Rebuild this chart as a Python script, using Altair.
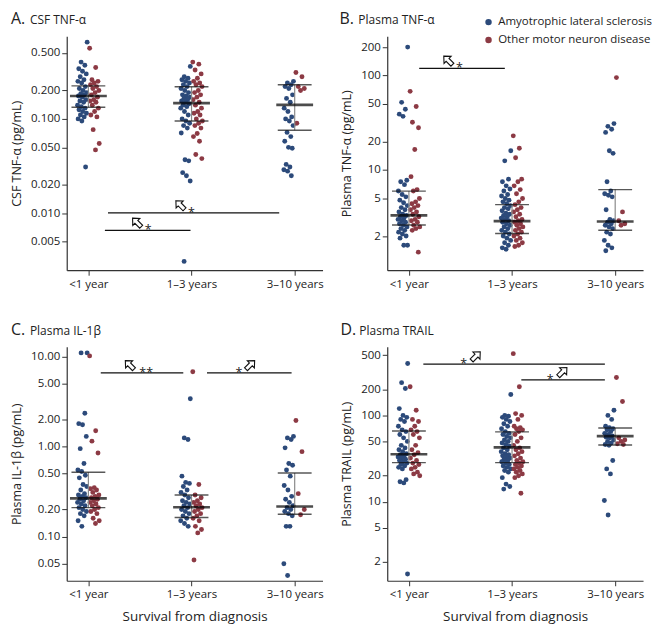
import altair as alt
import pandas as pd

FONT = "Open Sans"
GROUPS = ["Amyotrophic lateral sclerosis", "Other motor neuron disease"]
CATS = ["<1 year", "1–3 years", "3–10 years"]
BLUE = "#2c4a7a"
RED = "#8c3a44"

# ---------------- Panel A: CSF TNF-alpha ----------------
a_als = [
    [0.65, 0.40, 0.37, 0.34, 0.32, 0.30, 0.28, 0.26, 0.25, 0.24, 0.22, 0.21, 0.20, 0.19, 0.185, 0.18,
     0.175, 0.17, 0.16, 0.155, 0.15, 0.14, 0.135, 0.13, 0.125, 0.12, 0.115, 0.11, 0.105, 0.10, 0.095, 0.031],
    [0.36, 0.28, 0.27, 0.26, 0.25, 0.24, 0.23, 0.22, 0.21, 0.20, 0.19, 0.18, 0.175, 0.17, 0.165, 0.16,
     0.155, 0.15, 0.145, 0.14, 0.135, 0.13, 0.12, 0.11, 0.10, 0.095, 0.09, 0.085, 0.08, 0.071, 0.037,
     0.036, 0.027, 0.025, 0.022, 0.0031],
    [0.25, 0.24, 0.23, 0.22, 0.21, 0.18, 0.165, 0.15, 0.13, 0.12, 0.105, 0.10, 0.095, 0.085, 0.072,
     0.065, 0.058, 0.050, 0.049, 0.033, 0.031, 0.029, 0.028, 0.025],
]
a_oth = [
    [0.56, 0.35, 0.26, 0.25, 0.24, 0.23, 0.22, 0.21, 0.20, 0.19, 0.18, 0.17, 0.16, 0.155, 0.15, 0.14,
     0.13, 0.12, 0.11, 0.105, 0.077, 0.055, 0.047],
    [0.40, 0.38, 0.33, 0.30, 0.27, 0.25, 0.24, 0.23, 0.22, 0.20, 0.19, 0.18, 0.17, 0.16, 0.15, 0.14,
     0.13, 0.12, 0.115, 0.11, 0.10, 0.095, 0.09, 0.085, 0.08, 0.07, 0.065, 0.058, 0.042, 0.038],
    [0.31, 0.28, 0.22, 0.21, 0.20, 0.09],
]
a_med = [0.175, 0.147, 0.141]
a_q1 = [0.133, 0.095, 0.076]
a_q3 = [0.224, 0.219, 0.23]
a_ticks = [0.005, 0.01, 0.02, 0.05, 0.1, 0.2, 0.5]
# significance bars: from, to, level, arrow pos, star pos, star text, arrow direction
a_sig = [
    dict(x1=0.19, x2=1.85, y=0.0101, ax=0.89, sx=1.0, star="*", d="left"),
    dict(x1=0.16, x2=0.99, y=0.0066, ax=0.47, sx=0.58, star="*", d="left"),
]

# ---------------- Panel B: Plasma TNF-alpha ----------------
b_als = [
    [200, 52, 44, 39, 37, 7.8, 7.5, 7.0, 6.0, 5.5, 5.2, 4.8, 4.5, 4.2, 4.0, 3.8, 3.6, 3.4, 3.3, 3.2,
     3.1, 3.0, 2.9, 2.8, 2.7, 2.6, 2.5, 2.4, 2.3, 2.2, 2.1, 2.0, 1.9, 1.6, 1.6],
    [16, 12.5, 8.0, 7.5, 6.8, 6.3, 6.0, 5.5, 5.3, 5.0, 4.8, 4.6, 4.4, 4.2, 4.0, 3.9, 3.7, 3.5, 3.4,
     3.3, 3.2, 3.1, 3.0, 2.9, 2.8, 2.7, 2.6, 2.5, 2.4, 2.3, 2.2, 2.1, 2.0, 1.9, 1.8, 1.7, 1.6, 1.5, 1.45],
    [31, 29, 27, 25, 16, 15, 7.5, 6.0, 5.6, 5.4, 5.2, 3.8, 3.0, 2.9, 2.8, 2.7, 2.6, 2.5, 2.4, 2.2,
     2.1, 1.8, 1.6, 1.5, 1.4],
]
b_oth = [
    [68, 47, 32, 28, 16.5, 8.5, 6.2, 6.0, 5.0, 4.6, 4.4, 4.2, 4.0, 3.8, 3.6, 3.4, 3.2, 3.0, 2.9, 2.8,
     2.6, 2.5, 2.4, 2.3, 1.35],
    [23, 17, 13.5, 8.0, 7.5, 6.8, 6.2, 5.6, 5.0, 4.6, 4.3, 4.0, 3.8, 3.6, 3.4, 3.2, 3.0, 2.9, 2.8,
     2.7, 2.6, 2.5, 2.4, 2.3, 2.2, 2.1, 2.0, 1.9, 1.8, 1.7, 1.6, 1.55],
    [95, 3.6, 2.9, 2.7, 2.6],
]
b_med = [3.31, 2.88, 2.85]
b_q1 = [2.62, 2.13, 2.3]
b_q3 = [5.97, 4.3, 6.2]
b_ticks = [2, 5, 10, 20, 50, 100, 200]
b_sig = [
    dict(x1=0.10, x2=0.93, y=119, ax=0.38, sx=0.49, star="*", d="left"),
]

# ---------------- Panel C: Plasma IL-1beta ----------------
c_als = [
    [11, 11, 2.35, 1.8, 1.75, 1.3, 0.95, 0.65, 0.55, 0.53, 0.48, 0.45, 0.38, 0.36, 0.33, 0.30, 0.29,
     0.28, 0.27, 0.26, 0.25, 0.24, 0.23, 0.22, 0.21, 0.20, 0.19, 0.18, 0.17, 0.15, 0.13],
    [3.4, 1.25, 1.2, 0.47, 0.40, 0.39, 0.36, 0.33, 0.31, 0.29, 0.27, 0.25, 0.24, 0.23, 0.22, 0.21,
     0.20, 0.19, 0.18, 0.17, 0.16, 0.15, 0.14, 0.13],
    [1.3, 1.25, 1.2, 0.97, 0.65, 0.62, 0.55, 0.47, 0.37, 0.33, 0.28, 0.26, 0.24, 0.22, 0.21, 0.20,
     0.19, 0.18, 0.17, 0.13, 0.13, 0.05, 0.037],
]
c_oth = [
    [10.2, 1.5, 1.15, 0.85, 0.35, 0.34, 0.33, 0.31, 0.29, 0.28, 0.27, 0.26, 0.25, 0.24, 0.23, 0.22,
     0.21, 0.20, 0.19, 0.18, 0.16, 0.15, 0.14],
    [6.8, 0.38, 0.29, 0.27, 0.25, 0.24, 0.23, 0.22, 0.21, 0.20, 0.19, 0.18, 0.17, 0.16, 0.15, 0.13,
     0.12, 0.11, 0.055],
    [1.95, 0.88, 0.30, 0.20, 0.175],
]
c_med = [0.266, 0.212, 0.216]
c_q1 = [0.21, 0.163, 0.177]
c_q3 = [0.52, 0.29, 0.51]
c_ticks = [0.05, 0.1, 0.2, 0.5, 1, 2, 5, 10]
c_sig = [
    dict(x1=0.12, x2=0.92, y=6.6, ax=0.40, sx=0.56, star="**", d="left"),
    dict(x1=1.15, x2=1.97, y=6.6, ax=1.57, sx=1.46, star="*", d="right"),
]

# ---------------- Panel D: Plasma TRAIL ----------------
d_als = [
    [400, 240, 205, 120, 100, 95, 90, 85, 75, 68, 65, 60, 55, 50, 45, 42, 40, 38, 36, 35, 34, 33,
     32, 31, 30, 29, 28, 27, 26, 25, 24, 18, 17, 16.5, 1.45],
    [175, 100, 98, 95, 90, 85, 80, 75, 70, 65, 62, 60, 57, 55, 52, 50, 48, 46, 44, 42, 40, 38, 36,
     35, 34, 33, 32, 31, 30, 29, 28, 27, 26, 25, 24, 23, 22, 19, 16, 15, 14],
    [115, 100, 90, 75, 72, 70, 68, 65, 62, 60, 58, 56, 55, 52, 50, 48, 46, 45, 30, 24, 21, 10.3, 7],
]
d_oth = [
    [215, 115, 90, 85, 75, 68, 65, 60, 55, 45, 40, 37, 35, 32, 30, 28, 27, 25, 24, 22, 21, 20],
    [520, 215, 105, 100, 90, 75, 72, 70, 68, 65, 60, 55, 50, 45, 42, 40, 38, 36, 34, 32, 30, 29, 28,
     27, 26, 25, 24, 23, 22, 21, 20, 19, 12.5],
    [275, 145, 55, 52, 50, 47, 46],
]
d_med = [35.4, 42.6, 57.5]
d_q1 = [28.4, 28.4, 45.4]
d_q3 = [66, 64.4, 71.6]
d_ticks = [2, 5, 10, 20, 50, 100, 200, 500]
d_sig = [
    dict(x1=0.14, x2=1.90, y=394, ax=0.65, sx=0.53, star="*", d="right"),
    dict(x1=1.09, x2=1.90, y=259, ax=1.49, sx=1.37, star="*", d="right"),
]

W, H = 257, 235
ARROW = "M0,-1L0.82,-0.12L0.34,-0.12L0.34,1L-0.34,1L-0.34,-0.12L-0.82,-0.12Z"
XLABELS = "['<1 year','1–3 years','3–10 years'][datum.value]"


def panel(letter, name, ytitle, als, oth, med, q1, q3, ydom, yticks, yfmt, sigs,
          xtitle, letter_x, name_x):
    rows = []
    for c in range(3):
        for g, lst in ((GROUPS[0], als[c]), (GROUPS[1], oth[c])):
            for i, v in enumerate(lst):
                rows.append({"cat": c, "grp": g, "val": v, "idx": i})
    pts = pd.DataFrame(rows)

    xscale = alt.Scale(domain=[-0.21, 2.27], nice=False, zero=False)
    yscale = alt.Scale(type="log", domain=ydom, nice=False)
    if xtitle:
        xaxis = alt.Axis(values=[0, 1, 2], labelExpr=XLABELS, title=xtitle, grid=False,
                         tickSize=5, labelPadding=3, titlePadding=9, titleFontSize=13.5)
    else:
        xaxis = alt.Axis(values=[0, 1, 2], labelExpr=XLABELS, title=None, grid=False,
                         tickSize=5, labelPadding=3)
    yaxis = alt.Axis(values=yticks, format=yfmt, title=ytitle, grid=False, tickSize=5,
                     labelPadding=2, titlePadding=7)

    points = alt.Chart(pts).transform_calculate(
        xj="datum.cat + (datum.grp == '" + GROUPS[0] + "' ? -1 : 1) * "
           "(0.012 + 0.095 * ((datum.idx * 0.6180339) % 1))"
    ).mark_circle(size=24, opacity=1).encode(
        x=alt.X("xj:Q", scale=xscale, axis=xaxis),
        y=alt.Y("val:Q", scale=yscale, axis=yaxis),
        color=alt.Color("grp:N", scale=alt.Scale(domain=GROUPS, range=[BLUE, RED]),
                        legend=alt.Legend(orient="none", legendX=418, legendY=-20, title=None,
                                          labelFont=FONT, labelFontSize=11.5, labelColor="#222",
                                          labelLimit=300, symbolType="circle", symbolSize=42,
                                          rowPadding=5, labelOffset=4)),
    )

    summ = pd.DataFrame({"cat": [0, 1, 2], "med": med, "q1": q1, "q3": q3})
    base = alt.Chart(summ)
    vrule = base.mark_rule(color="#8a8a8a", strokeWidth=1.2).encode(
        x="cat:Q", y="q1:Q", y2="q3:Q")
    cap1 = base.mark_tick(orient="horizontal", size=34, thickness=1.4, color="#111").encode(
        x="cat:Q", y="q1:Q")
    cap3 = base.mark_tick(orient="horizontal", size=34, thickness=1.4, color="#111").encode(
        x="cat:Q", y="q3:Q")
    medl = base.mark_tick(orient="horizontal", size=37, thickness=2.6, color="#000").encode(
        x="cat:Q", y="med:Q")

    sdf = pd.DataFrame(sigs)
    sbase = alt.Chart(sdf)
    srule = sbase.mark_rule(color="#111", strokeWidth=1.2).encode(x="x1:Q", x2="x2:Q", y="y:Q")
    stars = sbase.mark_text(font=FONT, fontSize=12.5, baseline="alphabetic", dy=4,
                            color="#222").encode(x="sx:Q", y="y:Q", text="star:N")
    layers = [points, vrule, cap1, cap3, medl, srule, stars]
    for d, ang in (("left", 315), ("right", 45)):
        sub = sdf[sdf["d"] == d]
        if len(sub):
            layers.append(alt.Chart(sub).mark_point(
                shape=ARROW, size=150, filled=True, fill="white", stroke="#111",
                strokeWidth=1.1, angle=ang, yOffset=-8, opacity=1
            ).encode(x="ax:Q", y="y:Q"))

    tdf = pd.DataFrame({"letter": [letter], "name": [name]})
    t1 = alt.Chart(tdf).mark_text(align="left", baseline="alphabetic", font=FONT, fontSize=16,
                                  color="#222").encode(
        x=alt.value(letter_x), y=alt.value(-12), text="letter:N")
    t2 = alt.Chart(tdf).mark_text(align="left", baseline="alphabetic", font=FONT, fontSize=12,
                                  color="#222").encode(
        x=alt.value(name_x), y=alt.value(-12), text="name:N")
    layers += [t1, t2]
    return alt.layer(*layers).properties(width=W, height=H)


pA = panel("A.", "CSF TNF-α", "CSF TNF-α (pg/mL)", a_als, a_oth, a_med, a_q1, a_q3,
           [0.0025, 0.75], a_ticks, ".3f", a_sig, None, -56, -37)
pB = panel("B.", "Plasma TNF-α", "Plasma TNF-α (pg/mL)", b_als, b_oth, b_med, b_q1, b_q3,
           [0.87, 260], b_ticks, "d", b_sig, None, -48, -29)
pC = panel("C.", "Plasma IL-1β", "Plasma IL-1β (pg/mL)", c_als, c_oth, c_med, c_q1, c_q3,
           [0.0323, 12.85], c_ticks, ".2f", c_sig, "Survival from diagnosis", -56, -37)
pD = panel("D.", "Plasma TRAIL", "Plasma TRAIL (pg/mL)", d_als, d_oth, d_med, d_q1, d_q3,
           [1.21, 624], d_ticks, "d", d_sig, "Survival from diagnosis", -47, -28)

chart = alt.concat(pA, pB, pC, pD, columns=2, spacing={"row": 32, "column": 16}).properties(
    padding={"left": 2, "top": 2, "right": 0, "bottom": 0}
).configure_view(strokeWidth=0).configure_axis(
    labelFont=FONT, titleFont=FONT, labelFontSize=11.5, titleFontSize=12.5,
    titleFontWeight="normal", labelColor="#222", titleColor="#222",
    domainColor="#333", tickColor="#333", domainWidth=1.2
)

chart.save("out.html", embed_options={"renderer": "svg", "actions": False})
